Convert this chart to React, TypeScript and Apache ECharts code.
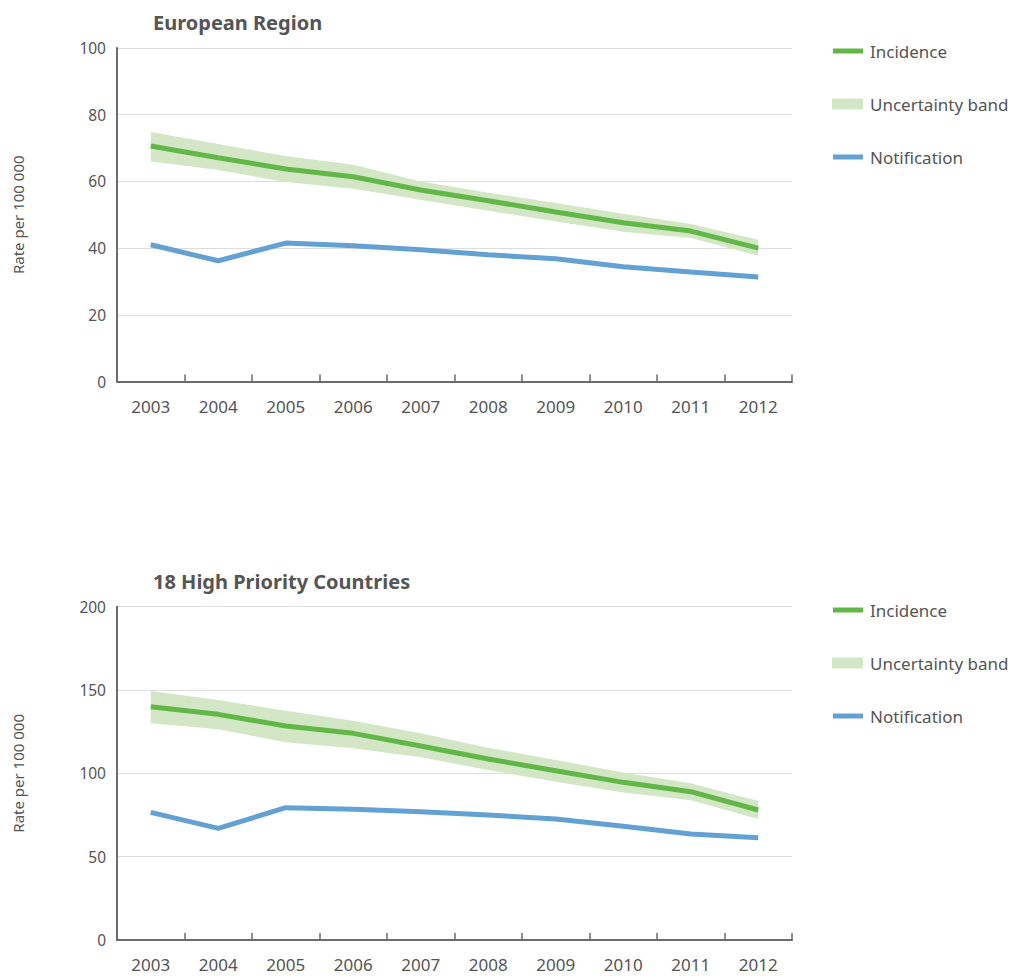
import React, { useEffect, useRef } from "react";
import * as echarts from "echarts";

const years = ["2003", "2004", "2005", "2006", "2007", "2008", "2009", "2010", "2011", "2012"];

const europeIncidence = [70.6, 67.1, 63.7, 61.4, 57.4, 54.2, 50.8, 47.6, 45.1, 40.0];
const europeLow = [66.0, 63.4, 59.8, 57.8, 54.5, 51.2, 48.0, 44.9, 43.0, 37.7];
const europeHigh = [74.8, 71.2, 67.6, 65.0, 60.0, 56.6, 53.5, 50.3, 47.2, 42.5];
const europeNotification = [41.0, 36.2, 41.5, 40.7, 39.5, 38.0, 36.8, 34.4, 32.8, 31.3];

const hpcIncidence = [140, 135.4, 128.4, 124, 116.4, 108.6, 101.6, 94.6, 89, 78];
const hpcLow = [130, 126.4, 118.6, 115, 109.6, 102, 95, 88.5, 83.8, 72.6];
const hpcHigh = [149.4, 144, 137.6, 131.6, 124, 115.4, 108, 100.5, 94, 83.4];
const hpcNotification = [76.6, 67, 79.4, 78.4, 77, 75, 72.6, 68.2, 63.6, 61.4];

const titles = ["European Region", "18 High Priority Countries"];
const legendLabels = ["Incidence", "Uncertainty band", "Notification"];
const yAxisName = "Rate per 100 000";

const GREEN = "#62b847";
const BAND = "#d3e7c6";
const BLUE = "#64a1d3";
const TEXT = "#555555";
const FONT = "'Noto Sans', 'Open Sans', sans-serif";

export default function App() {
  const ref = useRef<HTMLDivElement>(null);
  useEffect(() => {
    document.body.style.margin = "0";
    if (!ref.current) return;
    const chart = echarts.init(ref.current, undefined, { renderer: "svg" });

    const grids = [
      { left: 117, top: 48, width: 675, height: 333.5 },
      { left: 117, top: 606.7, width: 675, height: 333.3 },
    ];
    const yRanges = [
      { max: 100, interval: 20 },
      { max: 200, interval: 50 },
    ];
    const datasets = [
      { inc: europeIncidence, low: europeLow, high: europeHigh, notif: europeNotification },
      { inc: hpcIncidence, low: hpcLow, high: hpcHigh, notif: hpcNotification },
    ];

    const xAxes = grids.map((_, i) => ({
      type: "category",
      gridIndex: i,
      data: years,
      boundaryGap: true,
      axisLine: { lineStyle: { color: "#6b6b6b", width: 2 } },
      axisTick: { show: true, inside: true, length: 7, lineStyle: { color: "#6b6b6b", width: 1.5 } },
      axisLabel: { color: TEXT, fontSize: 17, fontFamily: FONT, margin: 16 },
      splitLine: { show: false },
    }));

    const yAxes = grids.map((_, i) => ({
      type: "value",
      gridIndex: i,
      min: 0,
      max: yRanges[i].max,
      interval: yRanges[i].interval,
      name: yAxisName,
      nameLocation: "middle",
      nameGap: 92,
      nameTextStyle: { color: TEXT, fontSize: 15, fontFamily: FONT },
      axisLine: { show: true, lineStyle: { color: "#6b6b6b", width: 2 } },
      axisTick: { show: false },
      axisLabel: { color: TEXT, fontSize: 15.5, fontFamily: FONT, margin: 11 },
      splitLine: { show: true, lineStyle: { color: "#dddddd", width: 1 } },
    }));

    const series: any[] = [];
    datasets.forEach((d, i) => {
      series.push({
        name: "low" + i,
        type: "line",
        xAxisIndex: i,
        yAxisIndex: i,
        data: d.low,
        stack: "band" + i,
        symbol: "none",
        lineStyle: { opacity: 0 },
        silent: true,
      });
      series.push({
        name: "band" + i,
        type: "line",
        xAxisIndex: i,
        yAxisIndex: i,
        data: d.high.map((h, k) => +(h - d.low[k]).toFixed(2)),
        stack: "band" + i,
        symbol: "none",
        lineStyle: { opacity: 0 },
        areaStyle: { color: BAND, opacity: 1 },
        silent: true,
      });
      series.push({
        name: "notif" + i,
        type: "line",
        xAxisIndex: i,
        yAxisIndex: i,
        data: d.notif,
        symbol: "none",
        lineStyle: { color: BLUE, width: 5 },
        z: 3,
      });
      series.push({
        name: "inc" + i,
        type: "line",
        xAxisIndex: i,
        yAxisIndex: i,
        data: d.inc,
        symbol: "none",
        lineStyle: { color: GREEN, width: 5 },
        z: 4,
      });
    });

    const legendTops = [51, 610];
    const graphic: any[] = [];
    legendTops.forEach((y0) => {
      const ys = [y0, y0 + 53, y0 + 106];
      graphic.push({ type: "rect", left: 833, top: ys[0] - 2.5, shape: { width: 30, height: 5 }, style: { fill: GREEN } });
      graphic.push({ type: "rect", left: 832, top: ys[1] - 5.5, shape: { width: 31, height: 11 }, style: { fill: BAND } });
      graphic.push({ type: "rect", left: 833, top: ys[2] - 2.5, shape: { width: 30, height: 5 }, style: { fill: BLUE } });
      legendLabels.forEach((lab, k) => {
        graphic.push({
          type: "text",
          x: 870,
          y: ys[k],
          style: { text: lab, fill: TEXT, fontSize: 17, fontFamily: FONT, verticalAlign: "middle", align: "left" },
        });
      });
    });

    chart.setOption({
      animation: false,
      backgroundColor: "#ffffff",
      title: [
        { text: titles[0], left: 148, top: 7, textStyle: { color: TEXT, fontSize: 20, fontWeight: "bold", fontFamily: FONT } },
        { text: titles[1], left: 148, top: 566, textStyle: { color: TEXT, fontSize: 20, fontWeight: "bold", fontFamily: FONT } },
      ],
      grid: grids,
      xAxis: xAxes,
      yAxis: yAxes,
      series,
      graphic,
    });

    return () => chart.dispose();
  }, []);

  return <div ref={ref} style={{ width: 1012, height: 979 }} />;
}
